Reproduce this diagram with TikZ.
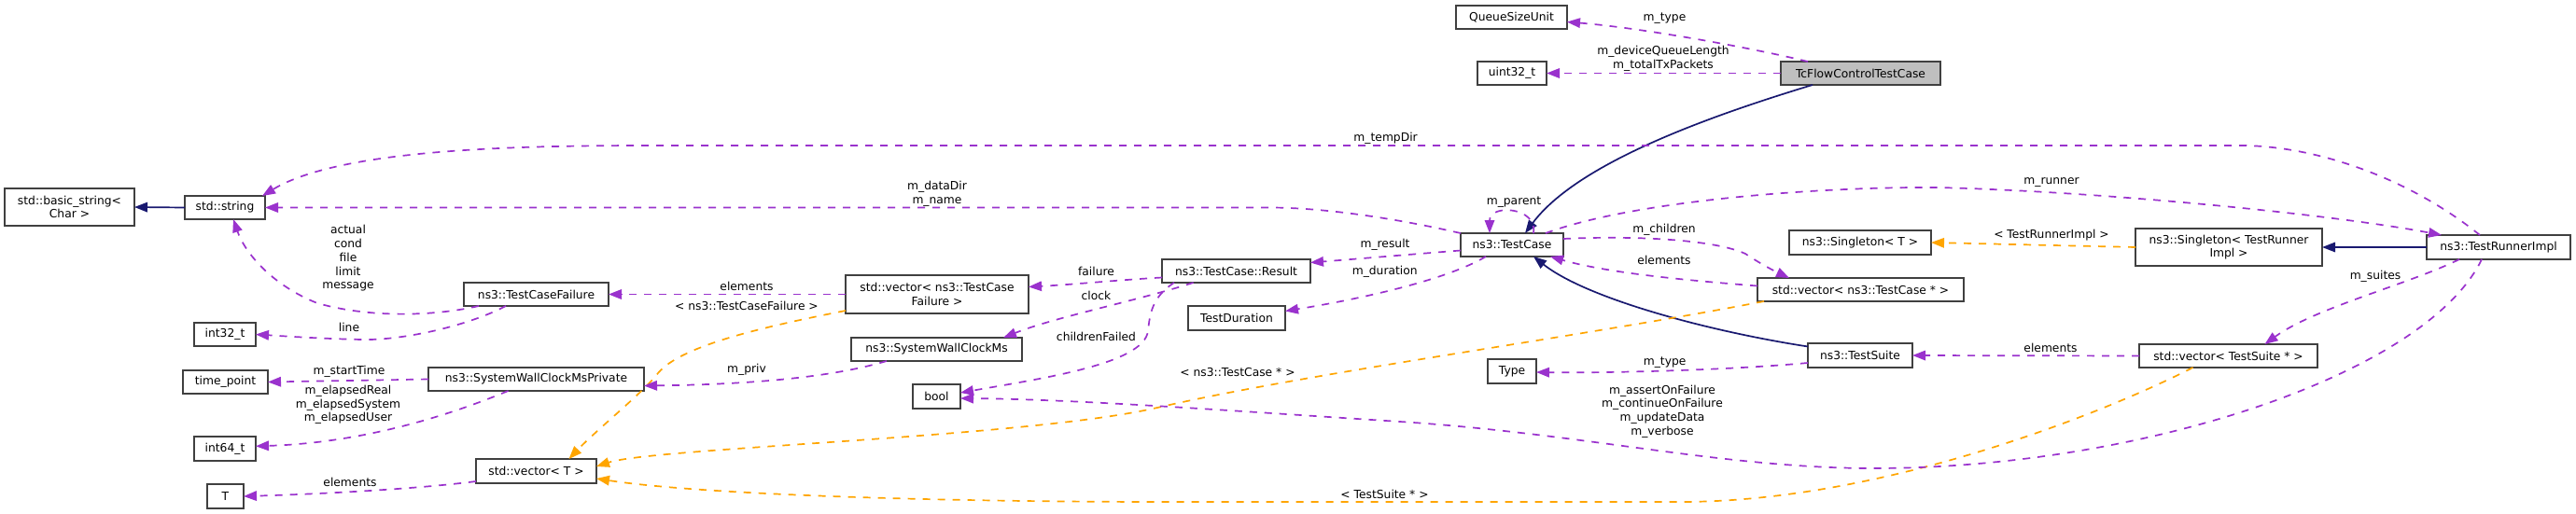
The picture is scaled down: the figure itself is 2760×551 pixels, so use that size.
\documentclass[tikz,border=0pt]{standalone}
\usepackage{fontspec}
\setmainfont{DejaVu Sans}
\usetikzlibrary{arrows.meta,calc}
\definecolor{dorchid}{HTML}{9A32CD}
\definecolor{dorange}{HTML}{FFA500}
\definecolor{mblue}{HTML}{191970}
\definecolor{boxgray}{HTML}{BFBFBF}
\definecolor{boxline}{HTML}{404040}
\begin{document}
\begin{tikzpicture}[x=1pt,y=-1pt,
  box/.style={draw=boxline,line width=1.6pt,fill=white,inner sep=0pt,outer sep=0pt,align=center,font=\fontsize{12.3}{14.75}\selectfont},
  lbl/.style={inner sep=0pt,align=center,font=\fontsize{12.3}{14.75}\selectfont},
  tipstyle/.style={-{Triangle[length=14pt,width=10.5pt]}},
  use/.style={draw=dorchid,line width=1.7pt,dash pattern=on 8pt off 8pt,tipstyle},
  tmpl/.style={draw=dorange,line width=1.7pt,dash pattern=on 8pt off 8pt,tipstyle},
  inh/.style={draw=mblue,line width=1.7pt,tipstyle}]
\useasboundingbox (0,0) rectangle (2760,551);
% nodes
\node[box,minimum width=119pt,minimum height=25pt] (qsu) at (1619.5,18.5) {QueueSizeUnit};
\node[box,minimum width=74pt,minimum height=25pt] (u32) at (1620,78.5) {uint32\_t};
\node[box,fill=boxgray,minimum width=171pt,minimum height=25pt] (tcf) at (1993.5,78.5) {TcFlowControlTestCase};
\node[box,minimum width=110pt,minimum height=25pt] (tc) at (1620,262.5) {ns3::TestCase};
\node[box,minimum width=152pt,minimum height=26pt] (sgT) at (1993,260) {ns3::Singleton< T >};
\node[box,minimum width=221pt,minimum height=25pt] (vtc) at (1993.5,310.5) {std::vector< ns3::TestCase * >};
\node[box,minimum width=112pt,minimum height=26pt] (ts) at (1993,381) {ns3::TestSuite};
\node[box,minimum width=52pt,minimum height=26pt] (type) at (1620,398) {Type};
\node[box,minimum width=200pt,minimum height=40pt] (sgTRI) at (2388,265) {ns3::Singleton< TestRunner\\Impl >};
\node[box,minimum width=191pt,minimum height=25pt] (vts) at (2387.5,381.5) {std::vector< TestSuite * >};
\node[box,minimum width=154pt,minimum height=26pt] (tri) at (2677,265) {ns3::TestRunnerImpl};
\node[box,minimum width=139pt,minimum height=40pt] (bs) at (74.5,222) {std::basic\_string<\\Char >};
\node[box,minimum width=86pt,minimum height=25pt] (str) at (241,222.5) {std::string};
\node[box,minimum width=155pt,minimum height=25pt] (tcfail) at (574.5,315.5) {ns3::TestCaseFailure};
\node[box,minimum width=66pt,minimum height=25pt] (i32) at (241,358.5) {int32\_t};
\node[box,minimum width=91pt,minimum height=25pt] (tp) at (241.5,409.5) {time\_point};
\node[box,minimum width=231pt,minimum height=25pt] (swcmp) at (574.5,406.5) {ns3::SystemWallClockMsPrivate};
\node[box,minimum width=66pt,minimum height=26pt] (i64) at (241,481) {int64\_t};
\node[box,minimum width=129pt,minimum height=26pt] (vT) at (574.5,505) {std::vector< T >};
\node[box,minimum width=39pt,minimum height=26pt] (T) at (241.5,532) {T};
\node[box,minimum width=196pt,minimum height=41pt] (vtcf) at (1004,315.5) {std::vector< ns3::TestCase\\Failure >};
\node[box,minimum width=159pt,minimum height=25pt] (res) at (1324.5,290.5) {ns3::TestCase::Result};
\node[box,minimum width=104pt,minimum height=26pt] (td) at (1325,341) {TestDuration};
\node[box,minimum width=183pt,minimum height=25pt] (swcm) at (1003.5,374.5) {ns3::SystemWallClockMs};
\node[box,minimum width=51pt,minimum height=26pt] (bool) at (1003.5,425) {bool};
% edges
\draw[inh] (str.west) -- (bs.east);
\draw[use] ($(tcf.north)+(-56.5,0)$) .. controls (1880,52) and (1760,30) .. ($(qsu.east)+(0,5)$);
\draw[use] (tcf.west) -- (u32.east);
\draw[inh] ($(tcf.south)+(-51.5,0)$) .. controls (1830,125) and (1690,175) .. ($(tc.north)+(14,0)$);
\draw[use] ($(tri.north)+(-20,0)$) .. controls (2580,190) and (2480,156) .. (2400,156) -- (700,156) .. controls (560,156) and (365,159) .. ($(str.north)+(40,0)$);
\draw[use] (tc.north west) .. controls (1500,235) and (1420,222.5) .. (1360,222.5) -- (str.east);
\draw[use] ($(tcfail.south)+(-61.5,0)$) .. controls (470,338) and (400,342) .. (340,325) .. controls (290,305) and (262,270) .. ($(str.south)+(9,0)$);
\draw[use] ($(tcfail.south)+(-32.5,0)$) .. controls (500,350) and (430,365) .. (388,364) .. controls (340,363) and (300,360) .. (i32.east);
\draw[use] (swcmp.west) -- (tp.east);
\draw[use] ($(swcmp.south)+(-30,0)$) .. controls (470,450) and (380,475) .. ($(i64.east)+(0,-2.7)$);
\draw[use] ($(vT.west)+(0,11)$) .. controls (440,525) and (330,530) .. (T.east);
\draw[use] (vtcf.west) -- (tcfail.east);
\draw[tmpl] ($(vtcf.west)+(0,17.5)$) .. controls (820,350) and (730,370) .. (705,400) .. controls (690,420) and (640,460) .. ($(vT.north)+(35,0)$);
\draw[use] ($(res.west)+(0,7)$) .. controls (1200,300) and (1150,305) .. ($(vtcf.east)+(0,-8)$);
\draw[use] ($(res.south)+(-46,0)$) .. controls (1220,322) and (1130,340) .. ($(swcm.north)+(71.5,0)$);
\draw[use] ($(res.south)+(-66.5,0)$) .. controls (1235,318) and (1232,335) .. (1230,355) .. controls (1225,390) and (1120,405) .. ($(bool.east)+(0,-4)$);
\draw[use] ($(swcm.south)+(-53.5,0)$) .. controls (900,402) and (820,412) .. ($(swcmp.east)+(0,7)$);
\draw[use] ($(tc.west)+(0,6)$) .. controls (1520,272) and (1460,277) .. ($(res.east)+(0,-9)$);
\draw[use] ($(tc.south)+(-28,0)$) .. controls (1550,300) and (1460,320) .. ($(td.east)+(0,-7.5)$);
\draw[use] ($(tc.north)+(23,0)$) .. controls (1648,222) and (1596,218) .. ($(tc.north)+(-24,0)$);
\draw[use] ($(tc.north)+(36,0)$) .. controls (1750,215) and (1950,200) .. (2075,201) .. controls (2250,205) and (2500,230) .. ($(tri.north)+(-61,0)$);
\draw[use] ($(tc.east)+(0,-6.5)$) .. controls (1760,252) and (1840,258) .. (1870,272) .. controls (1885,282) and (1900,290) .. ($(vtc.north)+(-76.5,0)$);
\draw[use] ($(vtc.west)+(0,-4)$) .. controls (1800,300) and (1720,292) .. ($(tc.south)+(41,0)$);
\draw[inh] ($(ts.west)+(0,-9.5)$) .. controls (1830,355) and (1700,320) .. ($(tc.south)+(23,0)$);
\draw[use] ($(ts.west)+(0,8)$) .. controls (1850,397) and (1720,400) .. ($(type.east)+(0,1)$);
\draw[use] (vts.west) -- (ts.east);
\draw[tmpl] ($(vtc.south)+(-103.5,0)$) .. controls (1700,360) and (1400,400) .. (1240,437) .. controls (1100,469) and (700,480) .. ($(vT.east)+(0,-5)$);
\draw[tmpl] ($(vts.south)+(-38,0)$) .. controls (2260,440) and (2020,538) .. (1800,538) -- (1250,538) .. controls (1000,538) and (750,530) .. ($(vT.east)+(0,8)$);
\draw[tmpl] (sgTRI.west) -- (sgT.east);
\draw[inh] (tri.west) -- (sgTRI.east);
\draw[use] ($(tri.south)+(-42,0)$) .. controls (2580,305) and (2480,330) .. ($(vts.north)+(39,0)$);
\draw[use] ($(tri.south)+(-18,0)$) .. controls (2600,400) and (2300,500) .. (2015,502) .. controls (1850,503) and (1700,465) .. (1500,452) .. controls (1300,439) and (1150,428) .. ($(bool.east)+(0,2)$);
% labels
\node[lbl] (l1) at (1783.5,20) {m\_type};
\node[lbl] (l2) at (1782,63) {m\_deviceQueueLength\\m\_totalTxPackets};
\node[lbl] (l3) at (1484.6,148.3) {m\_tempDir};
\node[lbl] (l4) at (1004,207.5) {m\_dataDir\\m\_name};
\node[lbl] (l5) at (1622,217) {m\_parent};
\node[lbl] (l6) at (2198,196) {m\_runner};
\node[lbl] (l7) at (1783,246.7) {m\_children};
\node[lbl] (l8) at (2198,252.3) {< TestRunnerImpl >};
\node[lbl] (l9) at (1783,279.3) {elements};
\node[lbl] (l10) at (1484,262.7) {m\_result};
\node[lbl] (l11) at (1483.7,291.7) {m\_duration};
\node[lbl] (l12) at (1174.5,290.7) {failure};
\node[lbl] (l13) at (1174.5,316.7) {clock};
\node[lbl] (l14) at (1174.5,360.7) {childrenFailed};
\node[lbl] (l15) at (2545,296.7) {m\_suites};
\node[lbl] (l16) at (2197,372.7) {elements};
\node[lbl] (l17) at (1783.6,389) {m\_type};
\node[lbl] (l18) at (1326,399) {< ns3::TestCase * >};
\node[lbl] (l19) at (1781,441) {m\_assertOnFailure\\m\_continueOnFailure\\m\_updateData\\m\_verbose};
\node[lbl] (l20) at (1483.5,530) {< TestSuite * >};
\node[lbl] (l21) at (373,277) {actual\\cond\\file\\limit\\message};
\node[lbl] (l22) at (374,351) {line};
\node[lbl] (l23) at (374,398) {m\_startTime};
\node[lbl] (l24) at (373,434) {m\_elapsedReal\\m\_elapsedSystem\\m\_elapsedUser};
\node[lbl] (l25) at (375,516.7) {elements};
\node[lbl] (l26) at (800,307.3) {elements};
\node[lbl] (l27) at (800,328.3) {< ns3::TestCaseFailure >};
\node[lbl] (l28) at (800,396.7) {m\_priv};
\end{tikzpicture}
\end{document}
